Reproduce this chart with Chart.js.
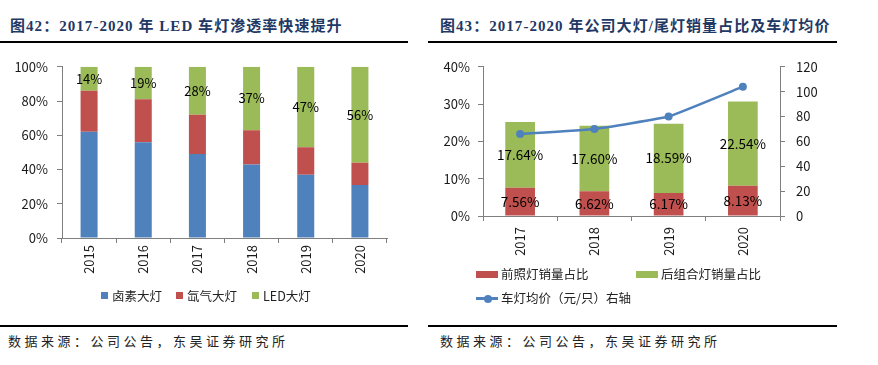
<!DOCTYPE html>
<html><head><meta charset="utf-8">
<script src="https://cdn.jsdelivr.net/npm/chart.js@4/dist/chart.umd.min.js"></script>
<style>
html,body{margin:0;padding:0;background:#fff;width:878px;height:365px;overflow:hidden;position:relative;font-family:"Noto Sans CJK SC",sans-serif;}
.title{position:absolute;top:18px;line-height:16px;font-family:"Liberation Serif","Noto Sans CJK SC",serif;font-weight:bold;font-size:15px;color:#1f3864;white-space:nowrap;letter-spacing:1.05px;}
.rule{position:absolute;height:2px;background:#000;}
.src{position:absolute;top:334px;line-height:14px;font-size:13px;color:#222;letter-spacing:3.5px;white-space:nowrap;}
.cv{position:absolute;}
.lg{position:absolute;font-size:12.5px;line-height:14px;color:#222;white-space:nowrap;}
.sw{position:absolute;}
</style></head>
<body>
<div class="title" style="left:10px;">图42：2017-2020 年 LED 车灯渗透率快速提升</div>
<div class="rule" style="left:0;width:408px;top:41px;"></div>
<div class="title" style="left:440px;">图43：2017-2020 年公司大灯/尾灯销量占比及车灯均价</div>
<div class="rule" style="left:428px;width:409px;top:41px;"></div>

<canvas id="c1" class="cv" width="408" height="230" style="left:0;top:50px;"></canvas>
<canvas id="c2" class="cv" width="410" height="217" style="left:428px;top:48px;"></canvas>

<div class="sw" style="left:101px;top:292px;width:7px;height:7px;background:#4f81bd;"></div>
<div class="lg" id="l1a" style="left:112px;top:289px;"></div>
<div class="sw" style="left:176px;top:292px;width:7px;height:7px;background:#c0504d;"></div>
<div class="lg" id="l1b" style="left:187px;top:289px;"></div>
<div class="sw" style="left:252px;top:292px;width:7px;height:7px;background:#9bbb59;"></div>
<div class="lg" id="l1c" style="left:263px;top:289px;"></div>

<div class="sw" style="left:476px;top:271px;width:22px;height:7px;background:#c0504d;"></div>
<div class="lg" id="l2a" style="left:501px;top:267px;"></div>
<div class="sw" style="left:636px;top:271px;width:22px;height:7px;background:#9bbb59;"></div>
<div class="lg" id="l2b" style="left:661px;top:267px;"></div>
<div class="sw" style="left:476px;top:297px;width:22px;height:2.5px;background:#4f81bd;"></div>
<div class="sw" style="left:483.5px;top:294.5px;width:8px;height:8px;border-radius:50%;background:#4f81bd;"></div>
<div class="lg" id="l2c" style="left:501px;top:291px;"></div>

<div class="rule" style="left:0;width:408px;top:325px;"></div>
<div class="rule" style="left:428px;width:409px;top:325px;"></div>
<div class="src" style="left:8px;">数据来源：公司公告，东吴证券研究所</div>
<div class="src" style="left:440px;">数据来源：公司公告，东吴证券研究所</div>

<script>
// ---- data: chart 1 ----
const years1 = ['2015','2016','2017','2018','2019','2020'];
const series1Names = ['卤素大灯','氙气大灯','LED大灯'];
const halogen = [62,56,49,43,37,31];
const xenon = [24,25,23,20,16,13];
const led = [14,19,28,37,47,56];
// ---- data: chart 2 ----
const years2 = ['2017','2018','2019','2020'];
const series2Names = ['前照灯销量占比','后组合灯销量占比','车灯均价（元/只）右轴'];
const frontShare = [7.56,6.62,6.17,8.13];
const rearShare = [17.64,17.60,18.59,22.54];
const avgPrice = [66,70,80,104];

document.getElementById('l1a').textContent = series1Names[0];
document.getElementById('l1b').textContent = series1Names[1];
document.getElementById('l1c').textContent = series1Names[2];
document.getElementById('l2a').textContent = series2Names[0];
document.getElementById('l2b').textContent = series2Names[1];
document.getElementById('l2c').textContent = series2Names[2];

const FONT = '"Noto Sans CJK SC", sans-serif';
const AX = '#7f7f7f';
const TXT = '#1a1a1a';

const segLabels = {
  id: 'segLabels',
  afterDatasetsDraw(chart, args, opts) {
    const ctx = chart.ctx;
    (opts.items || []).forEach(it => {
      const meta = chart.getDatasetMeta(it.index);
      const ds = chart.data.datasets[it.index];
      meta.data.forEach((el, j) => {
        const p = el.getProps(['x', 'y', 'base'], true);
        ctx.save();
        ctx.font = (opts.size || 13) + 'px ' + FONT;
        ctx.fillStyle = '#000';
        ctx.textAlign = 'center';
        ctx.textBaseline = 'middle';
        ctx.fillText(it.fmt(ds.data[j]), p.x, (p.y + p.base) / 2);
        ctx.restore();
      });
    });
  }
};

new Chart(document.getElementById('c1'), {
  type: 'bar',
  data: {
    labels: years1,
    datasets: [
      {label: series1Names[0], data: halogen, backgroundColor: '#4f81bd'},
      {label: series1Names[1], data: xenon, backgroundColor: '#c0504d'},
      {label: series1Names[2], data: led, backgroundColor: '#9bbb59'}
    ]
  },
  options: {
    responsive: false, animation: false,
    layout: {padding: {top: 7, right: 21, left: 0, bottom: 0}},
    datasets: {bar: {categoryPercentage: 1, barPercentage: 0.314}},
    plugins: {
      legend: {display: false}, tooltip: {enabled: false},
      segLabels: {size: 13, items: [{index: 2, fmt: v => v + '%'}]}
    },
    scales: {
      x: {
        stacked: true,
        grid: {display: true, drawOnChartArea: false, offset: true, tickLength: 5, color: AX},
        border: {color: AX, width: 1},
        ticks: {minRotation: 90, maxRotation: 90, padding: 2, color: TXT, font: {family: FONT, size: 13}},
        afterFit(s) { s.height = 42; }
      },
      y: {
        stacked: true, min: 0, max: 100,
        grid: {display: true, drawOnChartArea: false, tickLength: 5, color: AX},
        border: {color: AX, width: 1},
        ticks: {stepSize: 20, padding: 9, color: TXT, font: {family: FONT, size: 13}, callback: v => v + '%'},
        afterFit(s) { s.width = 62; }
      }
    }
  },
  plugins: [segLabels]
});

new Chart(document.getElementById('c2'), {
  type: 'bar',
  data: {
    labels: years2,
    datasets: [
      {type: 'line', label: series2Names[2], data: avgPrice, yAxisID: 'y1', borderColor: '#4f81bd', backgroundColor: '#4f81bd',
       borderWidth: 2.5, pointRadius: 4, pointBackgroundColor: '#4f81bd', pointBorderWidth: 0, tension: 0.1, order: 0},
      {label: series2Names[0], data: frontShare, backgroundColor: '#c0504d', yAxisID: 'y', order: 1},
      {label: series2Names[1], data: rearShare, backgroundColor: '#9bbb59', yAxisID: 'y', order: 1}
    ]
  },
  options: {
    responsive: false, animation: false,
    layout: {padding: {top: 5, right: 0, left: 0, bottom: 0}},
    datasets: {bar: {categoryPercentage: 1, barPercentage: 0.4}},
    plugins: {
      legend: {display: false}, tooltip: {enabled: false},
      segLabels: {size: 13.5, items: [{index: 1, fmt: v => v.toFixed(2) + '%'}, {index: 2, fmt: v => v.toFixed(2) + '%'}]}
    },
    scales: {
      x: {
        stacked: true,
        grid: {display: true, drawOnChartArea: false, offset: true, tickLength: 5, color: AX},
        border: {color: AX, width: 1},
        ticks: {minRotation: 90, maxRotation: 90, padding: 6, color: TXT, font: {family: FONT, size: 13}},
        afterFit(s) { s.height = 49; }
      },
      y: {
        stacked: true, min: 0, max: 40, position: 'left',
        grid: {display: true, drawOnChartArea: false, tickLength: 5, color: AX},
        border: {color: AX, width: 1},
        ticks: {stepSize: 10, padding: 8, color: TXT, font: {family: FONT, size: 13}, callback: v => v + '%'},
        afterFit(s) { s.width = 55; }
      },
      y1: {
        min: 0, max: 120, position: 'right',
        grid: {display: true, drawOnChartArea: false, tickLength: 5, color: AX},
        border: {color: AX, width: 1},
        ticks: {stepSize: 20, padding: 11, color: TXT, font: {family: FONT, size: 13}},
        afterFit(s) { s.width = 58; }
      }
    }
  },
  plugins: [segLabels]
});
</script>
</body></html>
